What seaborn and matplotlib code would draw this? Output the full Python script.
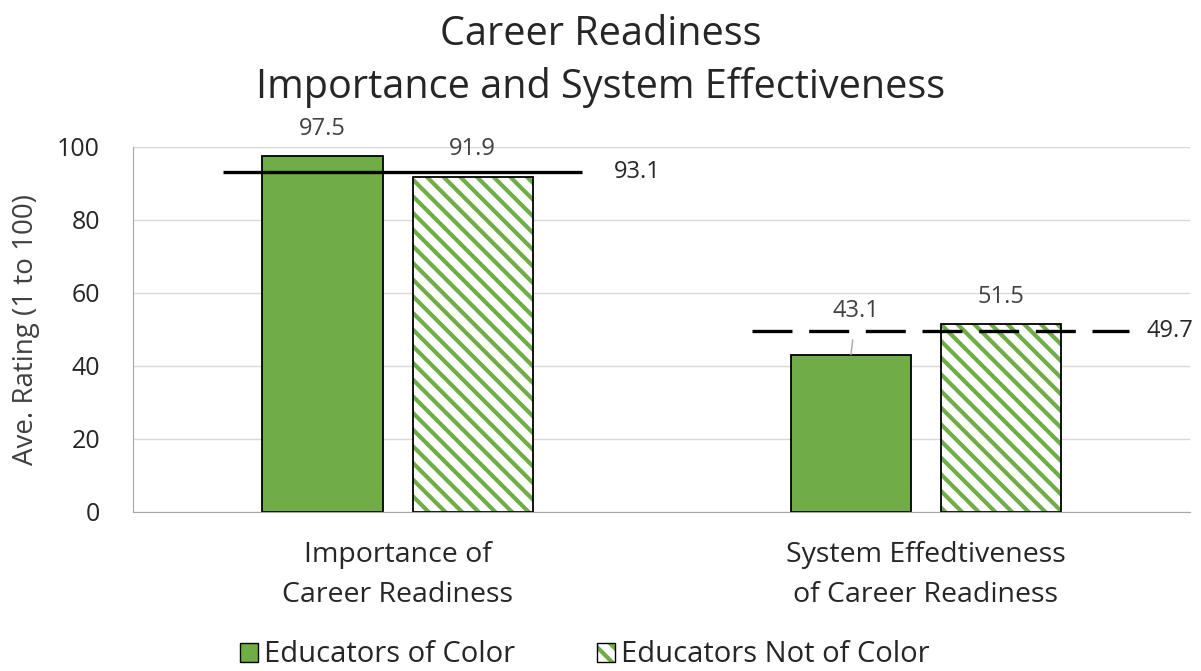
#!/usr/bin/env python3

import pandas as pd
import seaborn as sns
import matplotlib.pyplot as plt
import matplotlib as mpl
from matplotlib.patches import Patch, Rectangle

# data
categories = ['Importance of\nCareer Readiness', 'System Effedtiveness\nof Career Readiness']
groups = ['Educators of Color', 'Educators Not of Color']
color_vals = [97.5, 43.1]
not_color_vals = [91.9, 51.5]
overall_vals = [93.1, 49.7]

df = pd.DataFrame({
    'category': categories * 2,
    'group': [groups[0]] * 2 + [groups[1]] * 2,
    'value': color_vals + not_color_vals,
})

sns.set_style('white')
plt.rcParams['font.family'] = ['Open Sans', 'DejaVu Sans']
mpl.rcParams['hatch.linewidth'] = 3.0

green = '#70AD47'
txt = '#262626'
lab = '#404040'

f = plt.figure(figsize=(12.01, 6.71), dpi=100)
ax = f.add_axes([0.111, 0.237, 0.880, 0.544])

sns.barplot(data=df, x='category', y='value', hue='group', order=categories,
            hue_order=groups, palette=[green, 'white'], saturation=1, width=0.568,
            gap=0.2, edgecolor='black', linewidth=1.3, legend=False, ax=ax)

# hatch the second series in green, black outline on top
for bar in ax.containers[1]:
    bar.set_hatch('\\\\')
    bar.set_edgecolor(green)
    bar.set_linewidth(0)
    ax.add_patch(Rectangle((bar.get_x(), bar.get_y()), bar.get_width(), bar.get_height(),
                           fill=False, edgecolor='black', lw=1.3, zorder=bar.get_zorder() + 0.1))

# data labels
for i, v in enumerate(color_vals):
    bar = ax.containers[0][i]
    cx = bar.get_x() + bar.get_width() / 2
    if i == 1:
        ax.annotate(f'{v}', xy=(cx, v), xytext=(cx + 0.01, v + 12), ha='center', va='center',
                    fontsize=17, color=lab,
                    arrowprops=dict(arrowstyle='-', color='#a6a6a6', lw=1, shrinkA=10, shrinkB=0))
    else:
        ax.text(cx, v + 7.5, f'{v}', ha='center', va='center', fontsize=17, color=lab)
for i, v in enumerate(not_color_vals):
    bar = ax.containers[1][i]
    cx = bar.get_x() + bar.get_width() / 2
    ax.text(cx, v + 7.5, f'{v}', ha='center', va='center', fontsize=17, color=lab)

# overall lines
ax.hlines(overall_vals[0], 0 - 0.33, 0 + 0.35, color='black', lw=2.4, zorder=5)
ax.text(0 + 0.41, overall_vals[0], f'{overall_vals[0]}', va='center', fontsize=17, color=txt)
ax.hlines(overall_vals[1], 1 - 0.33, 1 + 0.385, color='black', lw=2.4, zorder=5,
          linestyles=(0, (12, 5)))
ax.text(1 + 0.418, overall_vals[1], f'{overall_vals[1]}', va='center', fontsize=17, color=txt)

ax.set_xlim(-0.5, 1.5)
ax.set_ylim(0, 100)
ax.set_yticks(range(0, 101, 20))
ax.grid(axis='y', color='#d9d9d9', lw=1)
ax.set_axisbelow(True)
for s in ['top', 'right']:
    ax.spines[s].set_visible(False)
ax.spines['left'].set_color('#a6a6a6')
ax.spines['bottom'].set_color('#a6a6a6')
ax.tick_params(axis='y', labelsize=18, colors=txt, length=0, pad=24)
ax.tick_params(axis='x', labelsize=20.5, colors=txt, length=0, pad=21)
for t in ax.get_xticklabels():
    t.set_linespacing(1.55)
ax.set_xlabel('')
ax.set_ylabel('Ave. Rating (1 to 100)', fontsize=20, color=lab, labelpad=12)

f.suptitle('Career Readiness\nImportance and System Effectiveness', fontsize=28.5,
           color=txt, y=0.978, linespacing=1.38)

# legend
handles = [Patch(facecolor=green, edgecolor='black', lw=1),
           (Patch(facecolor='white', edgecolor=green, hatch='\\\\', lw=0),
            Patch(fill=False, edgecolor='black', lw=1))]
f.legend(handles, groups, loc='center', bbox_to_anchor=(0.487, 0.024), ncol=2,
         frameon=False, fontsize=21, handlelength=0.62, handleheight=0.62,
         handletextpad=0.2, columnspacing=2.8, labelcolor=txt, borderpad=0.1)

plt.savefig('out.png', dpi=100)
